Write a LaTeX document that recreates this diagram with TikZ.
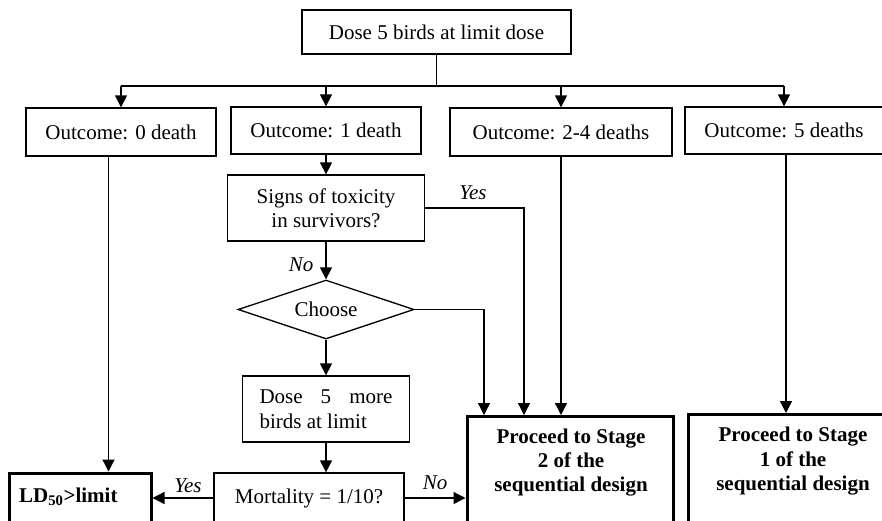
\documentclass[tikz,border=0pt]{standalone}
\usepackage{fontspec}
\setmainfont{Liberation Serif}
\usetikzlibrary{shapes.geometric,arrows.meta}
\begin{document}
\begin{tikzpicture}[x=1pt,y=-1pt,
  font=\fontsize{21}{24.5}\selectfont,
  every node/.style={inner sep=0pt},
  box/.style={draw,line width=1.3pt,rectangle,align=center},
  tbox/.style={draw,line width=3pt,rectangle},
  ln/.style={line width=1.3pt},
  arr/.style={line width=1.3pt,-{Triangle[length=12pt,width=12pt]}},
  lab/.style={font=\fontsize{21}{24}\selectfont\itshape}]
\useasboundingbox (0,0) rectangle (882,520);
\clip (0,0) rectangle (882,520);
\node[box,minimum width=269,minimum height=44] (top) at (436.5,32) {Dose 5 birds at limit dose};
\node[box,minimum width=190,minimum height=48] (o0) at (121,132) {Outcome: 0 death};
\node[box,minimum width=190,minimum height=47] (o1) at (326,130.5) {Outcome: 1 death};
\node[box,minimum width=222,minimum height=48] (o24) at (561,132) {Outcome: 2-4 deaths};
\node[box,minimum width=198,minimum height=47] (o5) at (784,130.5) {Outcome: 5 deaths};
\node[box,minimum width=197,minimum height=66] (signs) at (326,208) {Signs of toxicity\\in survivors?};
\node[draw,ln,diamond,aspect=3,minimum width=176,minimum height=59] (ch) at (326,309.5) {Choose};
\node[box,minimum width=167,minimum height=66,text width=0pt] (dose) at (326,409) {};
\node[align=left] (dosetxt) at (326,409) {\hbox to 133pt{Dose\hfill 5\hfill more}\\birds at limit};
\node[box,minimum width=190,minimum height=50] (mort) at (309,498) {Mortality = 1/10?};
\node[tbox,minimum width=142,minimum height=50] (ld) at (80,498) {};
\node[anchor=west,font=\fontsize{21}{24}\selectfont\bfseries] (ldtxt) at (19,497) {LD\textsubscript{50}>limit};
\node[tbox,minimum width=206,minimum height=130,anchor=north] (s2) at (570,415) {};
\node[align=center,font=\fontsize{21}{24}\selectfont\bfseries] (s2txt) at (571,463) {Proceed to Stage\\2 of the\\sequential design};
\node[tbox,minimum width=210,minimum height=130,anchor=north] (s1) at (793,413) {};
\node[align=center,font=\fontsize{21}{24.5}\selectfont\bfseries] (s1txt) at (793,461.5) {Proceed to Stage\\1 of the\\sequential design};
\coordinate (hb) at (436.5,86);
\draw[ln] (top.south) -- (hb);
\draw[ln] (o0.north |- hb) -- (o5.north |- hb);
\draw[arr] (o0.north |- hb) -- (o0.north);
\draw[arr] (o1.north |- hb) -- (o1.north);
\draw[arr] (o24.north |- hb) -- (o24.north);
\draw[arr] (o5.north |- hb) -- (o5.north);
\draw[arr] ([xshift=-12.5]o0.south) -- ([xshift=-12.5]o0.south |- ld.north);
\draw[arr] (o1.south) -- (signs.north);
\draw[arr] (signs.east) -| ([xshift=-46]s2.north);
\node[lab] (yes1) at (473,193) {Yes};
\draw[arr] (signs.south) -- (ch.north);
\node[lab] (no1) at (301,265) {No};
\draw[arr] (ch.east) -| ([xshift=-86]s2.north);
\draw[arr] (ch.south) -- (dose.north);
\draw[arr] (dose.south) -- (dose.south |- mort.north);
\draw[arr] (mort.west) -- (ld.east);
\node[lab] (yes2) at (188,486) {Yes};
\draw[arr] (mort.east) -- (mort.east -| s2.west);
\node[lab] (no2) at (435,483) {No};
\draw[arr] (o24.south) -- (o24.south |- s2.north);
\draw[arr] ([xshift=2]o5.south) -- ([xshift=2]o5.south |- s1.north);
\end{tikzpicture}
\end{document}
